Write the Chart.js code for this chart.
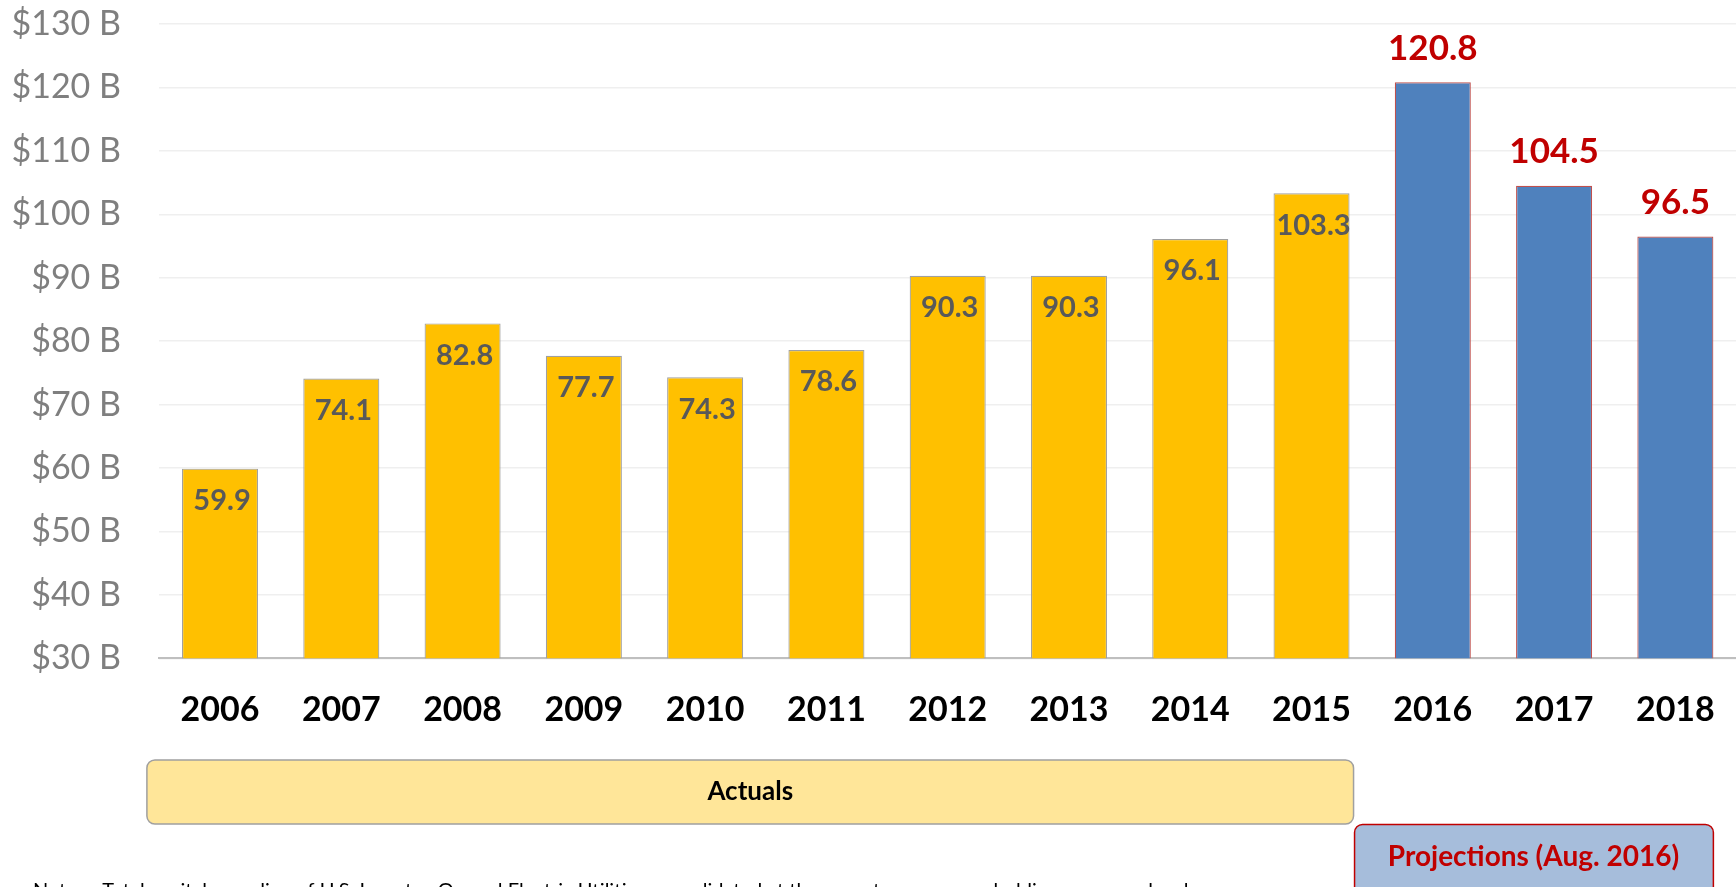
<!DOCTYPE html>
<html>
<head>
<meta charset="utf-8">
<script src="https://cdn.jsdelivr.net/npm/chart.js@4.4.1/dist/chart.umd.min.js"></script>
<style>
  html, body { margin: 0; padding: 0; background: #fff; overflow: hidden; }
  #wrap { position: relative; width: 1736px; height: 887px; }
</style>
</head>
<body>
<div id="wrap"><canvas id="capex" width="1736" height="887"></canvas></div>
<script>
// Investor-owned utility capital spending, $ billions
const years = ['2006', '2007', '2008', '2009', '2010', '2011', '2012', '2013', '2014', '2015', '2016', '2017', '2018'];
const spend = [59.9, 74.1, 82.8, 77.7, 74.3, 78.6, 90.3, 90.3, 96.1, 103.3, 120.8, 104.5, 96.5];
const projected = [false, false, false, false, false, false, false, false, false, false, true, true, true];
const yTicks = [30, 40, 50, 60, 70, 80, 90, 100, 110, 120, 130];

const actualColor = '#FFC000';
const projColor = '#4F81BD';
const FONT = 'Lato, "Open Sans", sans-serif';

Chart.defaults.font.family = FONT;

// value labels: inside the bar for actuals, above in red for projections
const barLabels = {
    id: 'barLabels',
    afterDatasetsDraw(chart) {
        const ctx = chart.ctx;
        const meta = chart.getDatasetMeta(0);
        ctx.save();
        ctx.textAlign = 'center';
        ctx.textBaseline = 'middle';
        meta.data.forEach((bar, i) => {
            const text = spend[i].toFixed(1);
            if (projected[i]) {
                ctx.font = 'bold 35px ' + FONT;
                ctx.fillStyle = '#C00000';
                ctx.fillText(text, bar.x, bar.y - 34);
            } else {
                ctx.font = 'bold 29px ' + FONT;
                ctx.fillStyle = '#595959';
                ctx.fillText(text, bar.x + 2, bar.y + 32);
            }
        });
        ctx.restore();
    }
};

function roundBox(ctx, x, y, w, h, r, fill, stroke) {
    ctx.beginPath();
    ctx.roundRect(x, y, w, h, r);
    ctx.fillStyle = fill;
    ctx.fill();
    ctx.lineWidth = 1.5;
    ctx.strokeStyle = stroke;
    ctx.stroke();
}

// "Actuals" / "Projections" bands under the axis, plus the footnote
const periodBoxes = {
    id: 'periodBoxes',
    afterDraw(chart) {
        const ctx = chart.ctx;
        const xs = chart.scales.x;
        const bar = chart.getDatasetMeta(0).data;
        const half = bar[0].width / 2;
        const lastActual = projected.indexOf(true) - 1;

        const aLeft = xs.left - 12.5;
        const aRight = xs.getPixelForValue(lastActual) + half + 4;
        const pRight = xs.getPixelForValue(years.length - 1) + half;

        ctx.save();
        roundBox(ctx, aLeft, 760, aRight - aLeft, 64, 8, '#FFE699', '#A0A0A0');
        roundBox(ctx, aRight + 1, 824.5, pRight - aRight - 1, 90, 8, '#A6BDDB', '#C00000');

        ctx.textAlign = 'center';
        ctx.textBaseline = 'middle';
        ctx.font = 'bold 26px ' + FONT;
        ctx.fillStyle = '#000';
        ctx.fillText('Actuals', (aLeft + aRight) / 2, 792);

        ctx.font = 'bold 28px ' + FONT;
        ctx.fillStyle = '#C00000';
        ctx.fillText('Projections (Aug. 2016)', (aRight + pRight) / 2, 857);

        ctx.textAlign = 'left';
        ctx.textBaseline = 'top';
        ctx.font = '20px ' + FONT;
        ctx.fillStyle = '#000';
        ctx.fillText('Note:    Total capital spending of U.S. Investor-Owned Electric Utilities consolidated at the parent company or holding company level.', 33, 881);
        ctx.restore();
    }
};

// keep tick labels from pushing the plot area in
function noOverflow(scale) {
    scale.paddingTop = 0;
    scale.paddingBottom = 0;
    scale.paddingLeft = 0;
    scale.paddingRight = 0;
}

new Chart(document.getElementById('capex').getContext('2d'), {
    type: 'bar',
    data: {
        labels: years,
        datasets: [{
            data: spend,
            backgroundColor: projected.map(p => p ? projColor : actualColor),
            borderColor: projected.map(p => p ? '#C0504D' : '#A0A0A0'),
            borderWidth: 1.2,
            borderSkipped: 'bottom',
            categoryPercentage: 1,
            barPercentage: 0.627
        }]
    },
    options: {
        responsive: false,
        devicePixelRatio: 1,
        animation: false,
        layout: { padding: { top: 24, left: 0, right: 0, bottom: 0 } },
        plugins: {
            legend: { display: false },
            tooltip: { enabled: false }
        },
        scales: {
            x: {
                grid: { display: false, drawTicks: false },
                border: { display: true, color: '#BFBFBF', width: 2 },
                ticks: {
                    color: '#000',
                    font: { size: 34, weight: 'bold' },
                    padding: 31,
                    maxRotation: 0
                },
                afterFit(scale) {
                    scale.height = 228.7;
                    noOverflow(scale);
                }
            },
            y: {
                min: yTicks[0],
                max: yTicks[yTicks.length - 1],
                afterBuildTicks(scale) { scale.ticks = yTicks.map(v => ({ value: v })); },
                grid: { color: '#EFEFEF', lineWidth: 1.5, drawTicks: false },
                border: { display: false },
                ticks: {
                    color: '#7F7F7F',
                    font: { size: 34 },
                    padding: 38.4,
                    callback: v => '$' + v + ' B'
                },
                afterFit(scale) {
                    scale.width = 159.4;
                    noOverflow(scale);
                }
            }
        }
    },
    plugins: [barLabels, periodBoxes]
});
</script>
</body>
</html>
